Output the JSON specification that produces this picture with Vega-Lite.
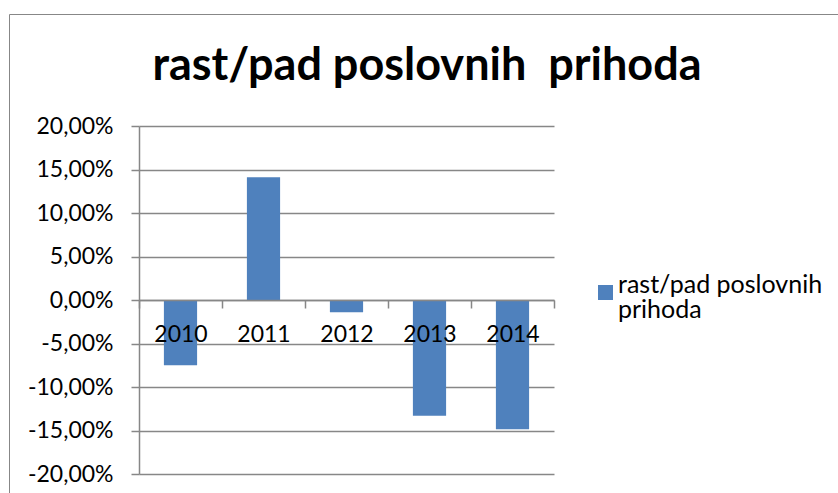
{
  "$schema": "https://vega.github.io/schema/vega-lite/v6.json",
  "autosize": "none",
  "width": 415,
  "height": 348,
  "padding": {"left": 139, "top": 126, "right": 284, "bottom": 19},
  "background": "white",
  "data": {
    "values": [
      {"godina": "2010", "serija": "rast/pad poslovnih prihoda", "vrijednost": -0.075},
      {"godina": "2011", "serija": "rast/pad poslovnih prihoda", "vrijednost": 0.141},
      {"godina": "2012", "serija": "rast/pad poslovnih prihoda", "vrijednost": -0.014},
      {"godina": "2013", "serija": "rast/pad poslovnih prihoda", "vrijednost": -0.133},
      {"godina": "2014", "serija": "rast/pad poslovnih prihoda", "vrijednost": -0.1485}
    ]
  },
  "mark": {"type": "bar", "width": {"band": 0.4}, "color": "#4F81BD"},
  "encoding": {
    "x": {
      "field": "godina",
      "type": "nominal",
      "sort": null,
      "scale": {"paddingInner": 0, "paddingOuter": 0},
      "axis": {
        "title": null,
        "orient": "bottom",
        "offset": -174,
        "zindex": 1,
        "labelAngle": 0,
        "labelFont": "Lato",
        "labelFontSize": 23,
        "labelColor": "black",
        "labelPadding": 15,
        "domainColor": "#878787",
        "domainWidth": 1.5,
        "tickColor": "#878787",
        "tickWidth": 1.5,
        "tickSize": 8,
        "tickBand": "extent"
      }
    },
    "y": {
      "field": "vrijednost",
      "type": "quantitative",
      "scale": {"domain": [-0.2, 0.2], "nice": false, "zero": false},
      "axis": {
        "title": "rast/pad poslovnih\u00a0 prihoda",
        "titleAngle": 0,
        "titleX": 13,
        "titleY": -47,
        "titleAlign": "left",
        "titleBaseline": "alphabetic",
        "titleFont": "Lato",
        "titleFontSize": 45,
        "titleFontWeight": "bold",
        "titleColor": "black",
        "values": [-0.2, -0.15, -0.1, -0.05, 0, 0.05, 0.1, 0.15, 0.2],
        "format": ".2%",
        "labelFont": "Lato",
        "labelFontSize": 23,
        "labelColor": "black",
        "labelPadding": 18,
        "grid": true,
        "gridColor": "#878787",
        "gridWidth": 1.5,
        "domainColor": "#878787",
        "domainWidth": 1.5,
        "tickColor": "#878787",
        "tickWidth": 1.5,
        "tickSize": 8
      }
    },
    "color": {
      "field": "serija",
      "type": "nominal",
      "scale": {"range": ["#4F81BD"]},
      "legend": {
        "title": ".",
        "titleOrient": "left",
        "titleOpacity": 0,
        "titleFontSize": 10,
        "titlePadding": 315,
        "orient": "none",
        "legendX": -130,
        "legendY": -112,
        "padding": 266,
        "strokeColor": "#878787",
        "symbolType": "square",
        "symbolSize": 225,
        "symbolStrokeWidth": 0,
        "symbolOpacity": 1,
        "labelFont": "Lato",
        "labelFontSize": 25,
        "labelColor": "black",
        "labelOffset": 0,
        "labelLimit": 400,
        "labelBaseline": "alphabetic",
        "labelExpr": "['rast/pad poslovnih', 'prihoda']"
      }
    }
  },
  "config": {
    "locale": {
      "number": {
        "decimal": ",",
        "thousands": ".",
        "grouping": [3],
        "currency": ["", " €"],
        "minus": "-",
        "percent": "%"
      }
    },
    "style": {"guide-label": {"lineHeight": 25}},
    "view": {"stroke": null}
  }
}
